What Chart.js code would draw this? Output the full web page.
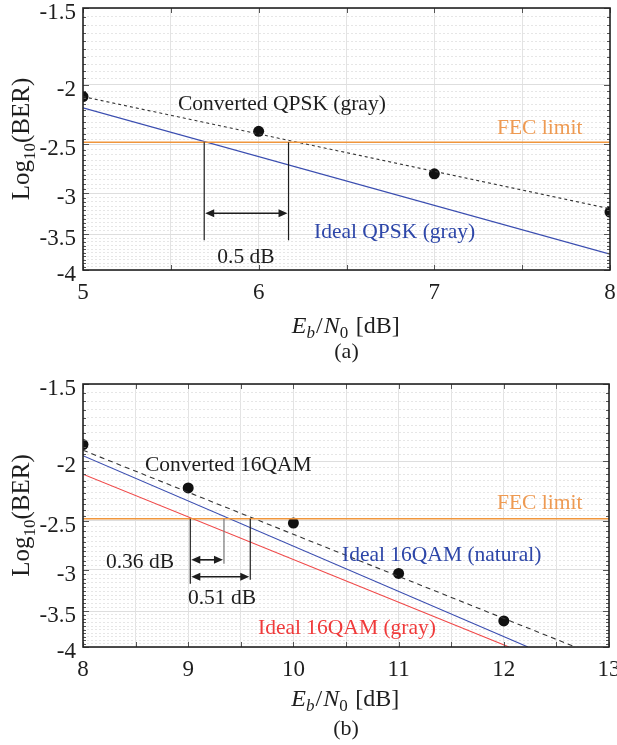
<!DOCTYPE html>
<html>
<head>
<meta charset="utf-8">
<script src="https://cdn.jsdelivr.net/npm/chart.js@4.4.1/dist/chart.umd.min.js"></script>
<style>
  body { margin: 0; background: #fff; }
  #wrap { position: relative; width: 617px; height: 745px; }
  canvas { position: absolute; left: 0; }
</style>
</head>
<body>
<div id="wrap">
  <canvas id="c1" width="617" height="365" style="top:0px"></canvas>
  <canvas id="c2" width="617" height="380" style="top:365px"></canvas>
</div>
<script>
// ---- data (values of Log10(BER)) ----
var fecLimit = -2.48;

// (a) QPSK
var qpskX = [5, 6, 7, 8];
var qpskConverted = [-2.09, -2.38, -2.79, -3.22];
var qpskFitX = [5, 8];
var qpskFit = [-2.09, -3.18];
var qpskIdealX = [5, 8];
var qpskIdeal = [-2.18, -3.77];
var qpskGapX = [5.69, 6.17];

// (b) 16QAM
var qamX = [8, 9, 10, 11, 12];
var qamConverted = [-1.88, -2.21, -2.52, -3.04, -3.63];
var qamFitX = [8, 12.68];
var qamFit = [-1.92, -4];
var qamNaturalX = [8, 12.23];
var qamNatural = [-1.96, -4];
var qamGrayX = [8, 12.05];
var qamGray = [-2.10, -4];
var qamGapX = [9.02, 9.34, 9.59];

var yTickLabels = ['-1.5', '-2', '-2.5', '-3', '-3.5', '-4'];
var qpskTickLabels = ['5', '6', '7', '8'];
var qamTickLabels = ['8', '9', '10', '11', '12', '13'];
var yMinorStep = 0.05;

var FONT = '"Liberation Serif", "Times New Roman", serif';
var INK = '#1e1e1e';
var ORANGE = '#f0963c';
var BLUE = '#3a4db0';
var RED = '#f04848';

function pts(xs, ys) {
  return xs.map(function(x, i) { return { x: x, y: -ys[i] }; });
}
function isMajor(v) {
  return Math.abs(v * 2 - Math.round(v * 2)) < 1e-6;
}

var yTicks = [];
for (var k = 0; k <= Math.round(2.5 / yMinorStep); k++) {
  yTicks.push(+(1.5 + k * yMinorStep).toFixed(2));
}

function arrow(ctx, x1, x2, y) {
  ctx.beginPath();
  ctx.moveTo(x1 + 6, y); ctx.lineTo(x2 - 6, y); ctx.stroke();
  ctx.beginPath();
  ctx.moveTo(x1, y); ctx.lineTo(x1 + 9, y - 4); ctx.lineTo(x1 + 9, y + 4); ctx.closePath();
  ctx.moveTo(x2, y); ctx.lineTo(x2 - 9, y - 4); ctx.lineTo(x2 - 9, y + 4); ctx.closePath();
  ctx.fill();
}

function drawXTitle(ctx, cx, cy) {
  var parts = [
    { t: 'E', f: 'italic 24px ' + FONT, dy: 0 },
    { t: 'b', f: 'italic 17px ' + FONT, dy: 5 },
    { t: '/', f: '24px ' + FONT, dy: 0, pad: 2 },
    { t: 'N', f: 'italic 24px ' + FONT, dy: 0 },
    { t: '0', f: '17px ' + FONT, dy: 5 },
    { t: ' [dB]', f: '24px ' + FONT, dy: 0, pad: 3 }
  ];
  var w = 0;
  parts.forEach(function(p) { ctx.font = p.f; p.w = ctx.measureText(p.t).width + (p.pad || 0); w += p.w; });
  var x = cx - w / 2;
  ctx.textBaseline = 'alphabetic';
  ctx.textAlign = 'left';
  parts.forEach(function(p) { ctx.font = p.f; ctx.fillText(p.t, x + (p.pad || 0) / 2, cy + 8 + p.dy); x += p.w; });
}

function drawYTitle(ctx, cx, cy) {
  ctx.save();
  ctx.translate(cx, cy);
  ctx.rotate(-Math.PI / 2);
  var parts = [
    { t: 'Log', f: '25px ' + FONT, dy: 0 },
    { t: '10', f: '17px ' + FONT, dy: 6 },
    { t: '(BER)', f: '25px ' + FONT, dy: 0 }
  ];
  var w = 0;
  parts.forEach(function(p) { ctx.font = p.f; p.w = ctx.measureText(p.t).width; w += p.w; });
  var x = -w / 2;
  ctx.textBaseline = 'alphabetic';
  ctx.textAlign = 'left';
  parts.forEach(function(p) { ctx.font = p.f; ctx.fillText(p.t, x, 8 + p.dy); x += p.w; });
  ctx.restore();
}

function makeOverlay(id, cfg) {
  return {
    id: id,
    afterDatasetsDraw: function(chart) {
      var ctx = chart.ctx, xs = chart.scales.x, ys = chart.scales.y;
      var fy = ys.getPixelForValue(-fecLimit);
      ctx.save();
      ctx.lineWidth = 1.2;
      cfg.gaps.forEach(function(g) {
        var px = xs.getPixelForValue(g.x);
        ctx.strokeStyle = g.color || INK;
        ctx.beginPath(); ctx.moveTo(px, fy); ctx.lineTo(px, fy + g.len); ctx.stroke();
      });
      ctx.strokeStyle = INK; ctx.fillStyle = INK; ctx.lineWidth = 1.6;
      cfg.arrows.forEach(function(a) {
        arrow(ctx, xs.getPixelForValue(a.from) + 1, xs.getPixelForValue(a.to) - 1, fy + a.dy);
      });
      ctx.restore();
    },
    afterDraw: function(chart) {
      var ctx = chart.ctx, a = chart.chartArea, xs = chart.scales.x, ys = chart.scales.y;
      ctx.save();
      // inward tick marks
      ctx.strokeStyle = '#555'; ctx.lineWidth = 1;
      ys.ticks.forEach(function(t) {
        var py = Math.round(ys.getPixelForValue(t.value)) + 0.5;
        var len = isMajor(t.value) ? 6 : 3;
        ctx.beginPath();
        ctx.moveTo(a.left, py); ctx.lineTo(a.left + len, py);
        ctx.moveTo(a.right, py); ctx.lineTo(a.right - len, py);
        ctx.stroke();
      });
      xs.ticks.forEach(function(t) {
        var px = Math.round(xs.getPixelForValue(t.value)) + 0.5;
        ctx.beginPath();
        ctx.moveTo(px, a.bottom); ctx.lineTo(px, a.bottom - 5);
        ctx.moveTo(px, a.top); ctx.lineTo(px, a.top + 5);
        ctx.stroke();
      });
      // frame
      ctx.strokeStyle = '#222'; ctx.lineWidth = 1.6;
      ctx.strokeRect(a.left, a.top, a.right - a.left, a.bottom - a.top);
      // text labels
      ctx.textBaseline = 'middle';
      cfg.texts.forEach(function(t) {
        ctx.font = '21.5px ' + FONT;
        ctx.fillStyle = t.color || INK;
        ctx.textAlign = t.align || 'left';
        ctx.fillText(t.text, t.x, t.y);
      });
      ctx.fillStyle = INK;
      drawYTitle(ctx, 21, (a.top + a.bottom) / 2);
      drawXTitle(ctx, (a.left + a.right) / 2, cfg.xTitleY);
      ctx.font = '22px ' + FONT;
      ctx.textAlign = 'center';
      ctx.textBaseline = 'middle';
      ctx.fillText(cfg.caption, (a.left + a.right) / 2, cfg.captionY);
      ctx.restore();
    }
  };
}

function makeChart(canvasId, o) {
  var H = document.getElementById(canvasId).height;
  return new Chart(document.getElementById(canvasId), {
    type: 'scatter',
    data: { datasets: o.datasets },
    options: {
      responsive: false,
      animation: false,
      layout: { padding: { left: 0, top: o.top, right: o.right, bottom: 0 } },
      plugins: { legend: { display: false }, tooltip: { enabled: false } },
      scales: {
        x: {
          type: 'linear', min: o.xmin, max: o.xmax,
          ticks: {
            stepSize: 0.5, autoSkip: false, maxRotation: 0, padding: 9,
            color: INK, font: { family: FONT, size: 23 },
            callback: function(v) {
              var i = o.xLabels.indexOf(String(v));
              return i >= 0 ? o.xLabels[i] : '';
            }
          },
          grid: { color: '#e3e3e3', lineWidth: 1, drawTicks: false },
          border: { display: false },
          afterFit: function(s) { s.height = H - o.bottom; s.paddingLeft = 0; s.paddingRight = 0; }
        },
        y: {
          type: 'logarithmic', min: 1.5, max: 4, reverse: true,
          afterBuildTicks: function(s) { s.ticks = yTicks.map(function(v) { return { value: v }; }); },
          ticks: {
            autoSkip: false, padding: 7, labelOffset: 5,
            color: INK, font: { family: FONT, size: 23 },
            callback: function(v) {
              if (!isMajor(v)) return '';
              return yTickLabels[Math.round((v - 1.5) * 2)];
            }
          },
          grid: {
            drawTicks: false, lineWidth: 1,
            color: function(c) { return c.tick && isMajor(c.tick.value) ? '#dedede' : '#e6e6e6'; }
          },
          border: {
            display: false,
            dash: function(c) { return c.tick && !isMajor(c.tick.value) ? [2, 2] : []; }
          },
          afterFit: function(s) { s.width = 83; s.paddingTop = 0; s.paddingBottom = 0; }
        }
      }
    },
    plugins: [o.overlay]
  });
}

function lineSet(xs, ys, color, width, dash) {
  return { data: pts(xs, ys), showLine: true, borderColor: color, borderWidth: width,
           borderDash: dash || [], pointRadius: 0, clip: 0 };
}
function dotSet(xs, ys) {
  return { data: pts(xs, ys), showLine: false, pointRadius: 5.5, pointBackgroundColor: '#111',
           pointBorderWidth: 0, clip: 0 };
}

makeChart('c1', {
  xmin: 5, xmax: 8, top: 8, right: 7, bottom: 270, xLabels: qpskTickLabels,
  datasets: [
    lineSet([5, 8], [fecLimit, fecLimit], ORANGE, 1.5),
    lineSet(qpskIdealX, qpskIdeal, BLUE, 1.2),
    lineSet(qpskFitX, qpskFit, '#333', 1.1, [3, 3]),
    dotSet(qpskX, qpskConverted)
  ],
  overlay: makeOverlay('ov1', {
    gaps: [{ x: qpskGapX[0], len: 98 }, { x: qpskGapX[1], len: 98 }],
    arrows: [{ from: qpskGapX[0], to: qpskGapX[1], dy: 71 }],
    texts: [
      { text: 'Converted QPSK (gray)', x: 178, y: 104 },
      { text: 'FEC limit', x: 497, y: 128, color: '#ee9a52' },
      { text: 'Ideal QPSK (gray)', x: 314, y: 232, color: '#2d46a8' },
      { text: '0.5 dB', x: 246, y: 257, align: 'center' }
    ],
    xTitleY: 325, caption: '(a)', captionY: 352
  })
});

makeChart('c2', {
  xmin: 8, xmax: 13, top: 19, right: 8, bottom: 282, xLabels: qamTickLabels,
  datasets: [
    lineSet([8, 13], [fecLimit, fecLimit], ORANGE, 1.5),
    lineSet(qamGrayX, qamGray, RED, 1.1),
    lineSet(qamNaturalX, qamNatural, BLUE, 1.1),
    lineSet(qamFitX, qamFit, '#333', 1.1, [5, 4]),
    dotSet(qamX, qamConverted)
  ],
  overlay: makeOverlay('ov2', {
    gaps: [{ x: qamGapX[0], len: 65 }, { x: qamGapX[1], len: 45, color: '#777' }, { x: qamGapX[2], len: 61 }],
    arrows: [{ from: qamGapX[0], to: qamGapX[1], dy: 41 }, { from: qamGapX[0], to: qamGapX[2], dy: 58 }],
    texts: [
      { text: 'Converted 16QAM', x: 145, y: 100 },
      { text: 'FEC limit', x: 497, y: 138, color: '#ee9a52' },
      { text: 'Ideal 16QAM (natural)', x: 342, y: 190, color: '#2d46a8' },
      { text: 'Ideal 16QAM (gray)', x: 258, y: 263, color: '#f03a3a' },
      { text: '0.36 dB', x: 140, y: 197, align: 'center' },
      { text: '0.51 dB', x: 222, y: 233, align: 'center' }
    ],
    xTitleY: 333, caption: '(b)', captionY: 364
  })
});
</script>
</body>
</html>
